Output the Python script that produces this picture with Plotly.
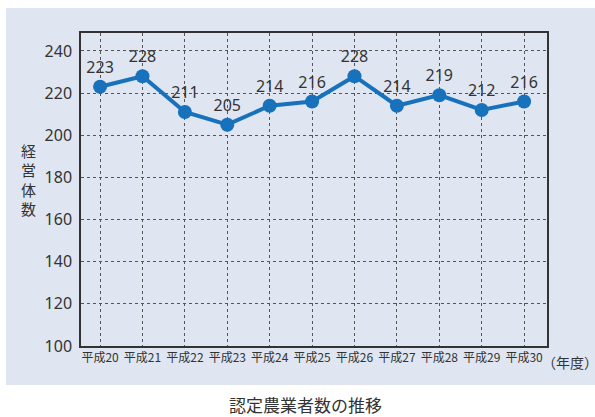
import plotly.graph_objects as go

years = ["平成20", "平成21", "平成22", "平成23", "平成24", "平成25",
         "平成26", "平成27", "平成28", "平成29", "平成30"]
counts = [223, 228, 211, 205, 214, 216, 228, 214, 219, 212, 216]
y_ticks = [100, 120, 140, 160, 180, 200, 220, 240]

W, H = 595, 417
L, R, T, B = 81, 48, 33, 71
pw, ph = W - L - R, H - T - B

def px(xp):
    return (xp - L) / pw

def py(yp):
    return (H - B - yp) / ph

font_num = "Noto Sans, Open Sans, sans-serif"
font_cjk = "Noto Sans CJK JP, sans-serif"
blue = "#1872bb"
txt = "#333333"

fig = go.Figure()
fig.add_trace(go.Scatter(
    x=list(range(len(years))), y=counts,
    mode="lines+markers+text",
    line=dict(color=blue, width=4),
    marker=dict(color=blue, size=14),
    text=[str(v) for v in counts],
    textposition="top center",
    textfont=dict(family=font_num, size=16, color=txt),
    cliponaxis=False,
    hoverinfo="skip",
))

annots = [
    dict(text="（年度）", xref="paper", yref="paper", x=px(540), y=py(362),
         xanchor="left", yanchor="middle", showarrow=False,
         font=dict(family=font_cjk, size=14, color=txt)),
    dict(text="認定農業者数の推移", xref="paper", yref="paper",
         x=px(305), y=py(405), xanchor="center", yanchor="middle",
         showarrow=False,
         font=dict(family=font_cjk, size=17, color=txt)),
]
for ch, yc in zip("経営体数", [150, 169.5, 189, 208.5]):
    annots.append(dict(text=ch, xref="paper", yref="paper",
                       x=px(28), y=py(yc), xanchor="center", yanchor="middle",
                       showarrow=False,
                       font=dict(family=font_cjk, size=15, color=txt)))

fig.update_layout(
    width=W, height=H,
    margin=dict(l=L, r=R, t=T, b=B),
    paper_bgcolor="white",
    plot_bgcolor="white",
    showlegend=False,
    shapes=[dict(type="rect", xref="paper", yref="paper",
                 x0=px(6), x1=px(600), y0=py(385), y1=py(8),
                 fillcolor="#dfe6f1", line=dict(width=0), layer="below")],
    annotations=annots,
)

fig.update_xaxes(
    range=[-0.45, 10.54],
    tickmode="array", tickvals=list(range(len(years))), ticktext=years,
    tickfont=dict(family=font_cjk, size=12, color=txt),
    showgrid=True, gridcolor="#555555", griddash="dot", gridwidth=1,
    showline=True, linecolor="#333333", linewidth=1.5, mirror=True,
    ticks="", zeroline=False,
)
fig.update_yaxes(
    range=[100, 248.5],
    tickmode="array", tickvals=y_ticks,
    tickfont=dict(family=font_num, size=16, color=txt),
    showgrid=True, gridcolor="#555555", griddash="dot", gridwidth=1,
    showline=True, linecolor="#333333", linewidth=1.5, mirror=True,
    ticks="", ticklabelstandoff=4, zeroline=False,
)

fig.write_html("out.html",
               config={"displayModeBar": False},
               post_script="document.body.style.margin='0';document.body.style.overflow='hidden';")
